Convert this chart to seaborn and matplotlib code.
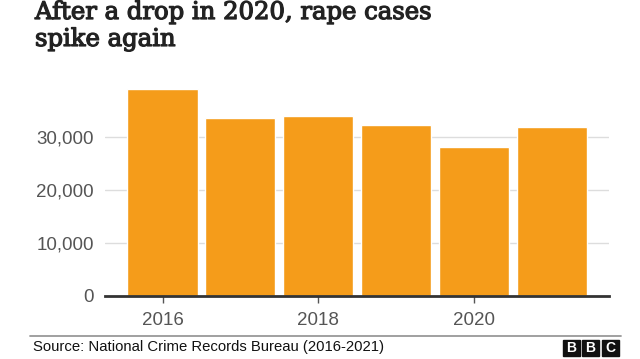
import matplotlib
matplotlib.use("Agg")
import matplotlib.pyplot as plt
import matplotlib.patheffects as pe
import seaborn as sns
import pandas as pd
from matplotlib.patches import Rectangle

years = ["2016", "2017", "2018", "2019", "2020", "2021"]
cases = [39000, 33600, 34000, 32300, 28100, 31800]
y_ticks = [0, 10000, 20000, 30000]
y_tick_labels = ["0", "10,000", "20,000", "30,000"]
x_tick_labels = ["2016", "2018", "2020"]

title = "After a drop in 2020, rape cases\nspike again"
source = "Source: National Crime Records Bureau (2016-2021)"

sns.set_theme(style="white")
plt.rcParams["font.family"] = ["Liberation Sans", "DejaVu Sans"]

df = pd.DataFrame({"year": years, "cases": cases})

fig = plt.figure(figsize=(6.4, 3.59), dpi=100)
ax = fig.add_axes([105/640, 1-296/359, (609-105)/640, (296-84)/359])

sns.barplot(data=df, x="year", y="cases", color="#F59C1A", saturation=1,
            width=0.9, ax=ax, zorder=3)

ax.set_ylim(0, 40000)
ax.set_xlim(-0.739, 5.736)
ax.set_yticks(y_ticks)
ax.set_yticklabels(y_tick_labels)
ax.set_xticks([0, 2, 4])
ax.set_xticklabels(x_tick_labels)
ax.set_xlabel("")
ax.set_ylabel("")
for y in y_ticks[1:]:
    ax.axhline(y, color="#dddddd", lw=1, zorder=1)
for s in ["top", "right", "left"]:
    ax.spines[s].set_visible(False)
ax.spines["bottom"].set_color("#333333")
ax.spines["bottom"].set_linewidth(2)
ax.spines["bottom"].set_zorder(5)
ax.tick_params(axis="y", length=0, labelsize=13.5, labelcolor="#555555", pad=8)
ax.tick_params(axis="x", length=5, width=1, color="#555555", direction="out",
               labelsize=13.5, labelcolor="#555555", pad=6.5, bottom=True)

fig.text(35/640, 1-1/359, title, ha="left", va="top", fontsize=17.5,
         family=["DejaVu Serif"], color="#222222", linespacing=1.22,
         path_effects=[pe.withStroke(linewidth=0.9, foreground="#222222")])

fig.add_artist(plt.Line2D([30/640, 621/640], [1-335.7/359, 1-335.7/359],
                          color="#999999", lw=1.3, transform=fig.transFigure))
fig.text(33/640, 1-347/359, source, ha="left", va="center", fontsize=10.75,
         color="#111111")

# BBC logo
for i, letter in enumerate("BBC"):
    x0 = 562.5 + i * 19.5
    fig.add_artist(Rectangle((x0/640, 1-356/359), 17/640, 16/359,
                             transform=fig.transFigure, color="#111111"))
    fig.text((x0+8.5)/640, 1-348/359, letter, ha="center", va="center",
             fontsize=10, fontweight="bold", color="white")

fig.savefig("out.png", dpi=100, facecolor="white")
